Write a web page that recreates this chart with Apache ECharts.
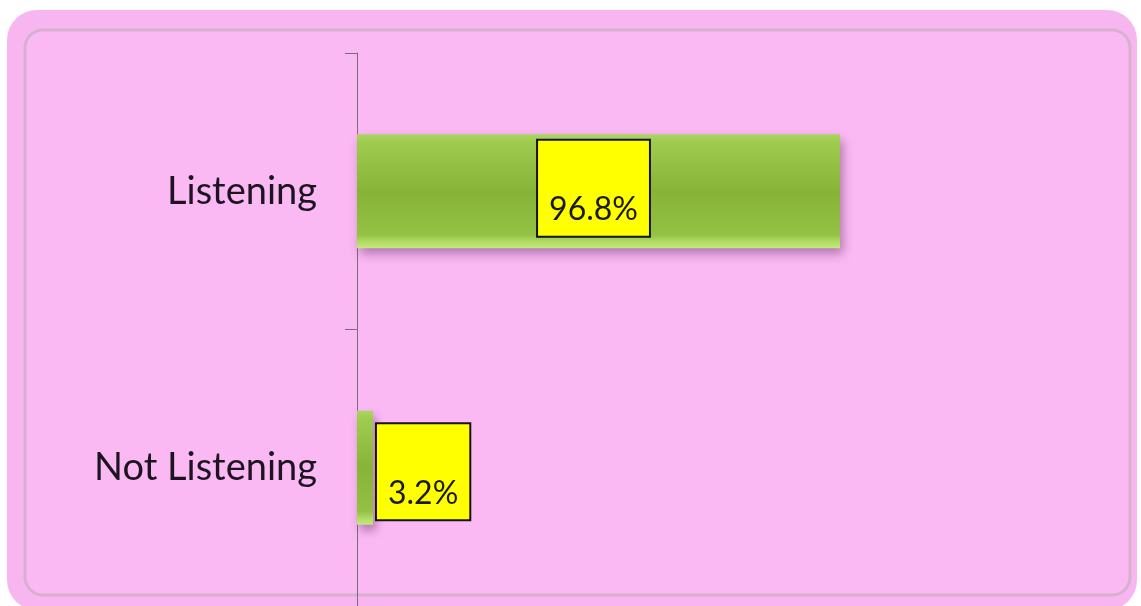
<!DOCTYPE html>
<html>
<head>
<meta charset="utf-8">
<script src="https://cdn.jsdelivr.net/npm/echarts@6/dist/echarts.min.js"></script>
<style>
html,body{margin:0;padding:0;background:#ffffff;}
#chart{width:1141px;height:606px;}
</style>
</head>
<body>
<div id="chart"></div>
<script>
var categories = ['Listening', 'Not Listening'];
var values = [96.8, 3.2];
var valueLabels = ['96.8%', '3.2%'];

var chart = echarts.init(document.getElementById('chart'), null, {renderer: 'canvas'});

var barGradient = new echarts.graphic.LinearGradient(0, 0, 0, 1, [
  {offset: 0, color: '#abd560'},
  {offset: 0.07, color: '#9fcb4f'},
  {offset: 0.5, color: '#87b436'},
  {offset: 0.88, color: '#92c143'},
  {offset: 0.95, color: '#b3dc68'},
  {offset: 1, color: '#c4e87c'}
]);

var labelCommon = {
  show: true,
  color: '#1a1a1a',
  backgroundColor: '#ffff00',
  borderColor: '#141414',
  borderWidth: 2,
  padding: [0, 11, 10, 11],
  rich: {
    s: {height: 53, lineHeight: 53, fontSize: 10},
    v: {fontFamily: 'Lato', fontSize: 32, lineHeight: 32, color: '#1a1a1a'}
  }
};

var data = values.map(function (v, i) {
  var lab = Object.assign({}, labelCommon, {
    formatter: '{s|}\n{v|' + valueLabels[i] + '}'
  });
  if (i === 0) {
    lab.position = 'inside';
    lab.offset = [-5, -3];
  } else {
    lab.position = 'right';
    lab.distance = 4;
    lab.offset = [0, 4];
  }
  return {value: v, label: lab};
});

chart.setOption({
  backgroundColor: '#ffffff',
  animation: false,
  graphic: {
    z: 0,
    elements: [
      {
        type: 'rect',
        z: 0,
        shape: {x: 7, y: 10, width: 1130, height: 600, r: 30},
        style: {fill: '#f8b6f0'}
      },
      {
        type: 'rect',
        z: 0,
        shape: {x: 25, y: 30, width: 1105, height: 565, r: 18},
        style: {fill: '#fbb9f4', stroke: '#d6b1cf', lineWidth: 3}
      }
    ]
  },
  grid: {left: 357, top: 53, width: 499, height: 560, containLabel: false},
  xAxis: {
    type: 'value',
    min: 0,
    max: 100,
    show: false
  },
  yAxis: {
    type: 'category',
    inverse: true,
    data: categories,
    z: 5,
    axisLine: {show: true, lineStyle: {color: '#7c6a7d', width: 1}},
    axisTick: {show: true, length: 12, lineStyle: {color: '#7c6a7d', width: 1}},
    axisLabel: {
      margin: 40,
      fontFamily: 'Lato',
      fontSize: 38,
      color: '#1c1420'
    },
    splitLine: {show: false}
  },
  series: [{
    type: 'bar',
    z: 6,
    barWidth: 114,
    data: data,
    itemStyle: {
      color: barGradient,
      shadowColor: 'rgba(90,40,90,0.45)',
      shadowBlur: 10,
      shadowOffsetX: 3,
      shadowOffsetY: 6
    }
  }]
});
</script>
</body>
</html>
